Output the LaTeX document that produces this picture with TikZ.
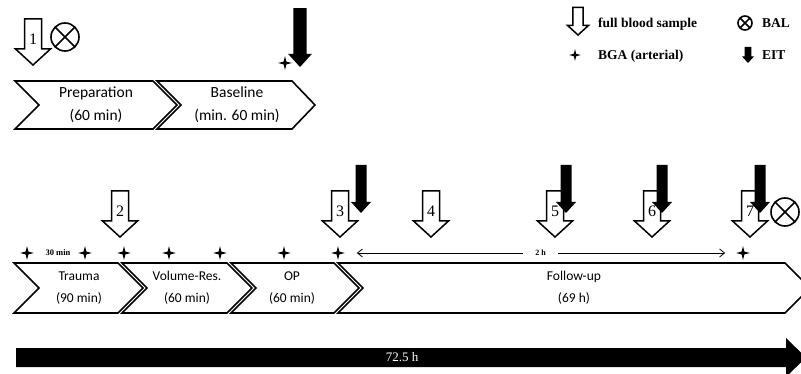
\documentclass[tikz,border=0pt]{standalone}
\usepackage{fontspec}
\setmainfont{Liberation Serif}
\newfontfamily\chevfont{Carlito}
\usepackage{tikz}
\usetikzlibrary{arrows.meta,shapes.geometric}

\tikzset{
  chev/.style={draw, line width=1.6pt, fill=white, line join=miter},
  chevtop/.style={font=\chevfont\fontsize{15.5}{23}\selectfont, align=center},
  chevbot/.style={font=\chevfont\fontsize{13.5}{22}\selectfont, align=center},
  bga/.style={star, star points=4, star point ratio=3.6, fill=black, minimum size=14pt, inner sep=0pt},
  legtext/.style={font=\bfseries\fontsize{13.5}{13.5}\selectfont, anchor=base west, inner sep=0pt},
  blood/.pic={
    \draw[line width=1.5pt, fill=white] (-8.5,-46) -- (8.5,-46) -- (8.5,-16) -- (17.5,-16) -- (0,0) -- (-17.5,-16) -- (-8.5,-16) -- cycle;
    \node[font=\fontsize{16}{16}\selectfont, inner sep=0pt] (-num) at (0,-26) {#1};
  },
  eit/.pic={
    \fill (-5.5,-#1) -- (5.5,-#1) -- (5.5,-11) -- (10,-11) -- (0,0) -- (-10,-11) -- (-5.5,-11) -- cycle;
  },
  bal/.pic={
    \draw[line width=1.6pt] (0,0) circle (14pt) (-45:14pt) -- (135:14pt) (45:14pt) -- (-135:14pt);
  },
}

\begin{document}
\begin{tikzpicture}[x=1pt, y=-1pt]
\useasboundingbox (0,0) rectangle (801,374);
\clip (0,0) rectangle (801,374);

% upper phase row
\draw[chev] (15,81) -- (153,81) -- (177,105) -- (153,129) -- (15,129) -- (39,105) -- cycle;
\draw[chev] (157,81) -- (292,81) -- (315,105) -- (292,129) -- (157,129) -- (181,105) -- cycle;
\node[chevtop] (prep) at (96,105) {Preparation\\(60 min)};
\node[chevtop] (base) at (237,105) {Baseline\\(min. 60 min)};

\pic (bs1) at (33,65) {blood=1};
\pic at (65,37) {bal};
\node[bga] (bt) at (285,63) {};
\pic[scale=1.2] at (300,67) {eit=49};

% lower phase row
\draw[chev] (14,263) -- (118,263) -- (143,288) -- (118,313) -- (14,313) -- (39,288) -- cycle;
\draw[chev] (122,263) -- (227,263) -- (252,288) -- (227,313) -- (122,313) -- (147,288) -- cycle;
\draw[chev] (231,263) -- (334,263) -- (359,288) -- (334,313) -- (231,313) -- (256,288) -- cycle;
\draw[chev] (338,263) -- (785,263) -- (810,288) -- (785,313) -- (338,313) -- (363,288) -- cycle;
\node[chevbot] (trauma) at (79,288) {Trauma\\(90 min)};
\node[chevbot] (volres) at (187,288) {Volume-Res.\\(60 min)};
\node[chevbot] (op) at (292,288) {OP\\(60 min)};
\node[chevbot] (follow) at (574,288) {Follow-up\\(69 h)};

% blood gas samples
\foreach \x [count=\i] in {27,85,124,169,220,284,338,743}
  \node[bga] (b\i) at (\x,253) {};
\node[font=\bfseries\fontsize{8.5}{8.5}\selectfont] (thirty) at (58,253) {30 min};
\draw[{Straight Barb[length=5pt,width=8pt]}-{Straight Barb[length=5pt,width=8pt]}, line width=0.8pt, shorten <=11pt, shorten >=10pt]
  (b7) -- node[fill=white, inner xsep=12pt, font=\bfseries\fontsize{8}{8}\selectfont] (twoh) {2 h} (b8);

% full blood samples and EIT
\pic (bs2) at (120,237) {blood=2};
\pic (bs3) at (340,237) {blood=3};
\pic (bs4) at (431,237) {blood=4};
\pic (bs5) at (555,237) {blood=5};
\pic (bs6) at (652,237) {blood=6};
\pic (bs7) at (750,237) {blood=7};
\pic at (361,213) {eit=48};
\pic at (566,213) {eit=48};
\pic at (662,213) {eit=48};
\pic at (760,213) {eit=48};
\pic at (785,212) {bal};

% total duration
\fill (16,348) -- (786,348) -- (786,338) -- (806,357.5) -- (786,377) -- (786,367) -- (16,367) -- cycle;
\node[white, font=\fontsize{13}{13}\selectfont] (total) at (402,357.5) {72.5 h};

% legend
\pic (lg) [scale=0.6] at (578,35) {blood={}};
\node[legtext] (l-blood) at (598,28) {full blood sample};
\node[bga, minimum size=12pt] (l-star) at (575,55) {};
\node[legtext] (l-bga) at (598,60) {BGA (arterial)};
\pic[scale=0.5] at (745,23) {bal};
\node[legtext] (l-bal) at (762,28) {BAL};
\pic[scale=0.6] at (748,63) {eit=27};
\node[legtext] (l-eit) at (762,60) {EIT};
\end{tikzpicture}
\end{document}
